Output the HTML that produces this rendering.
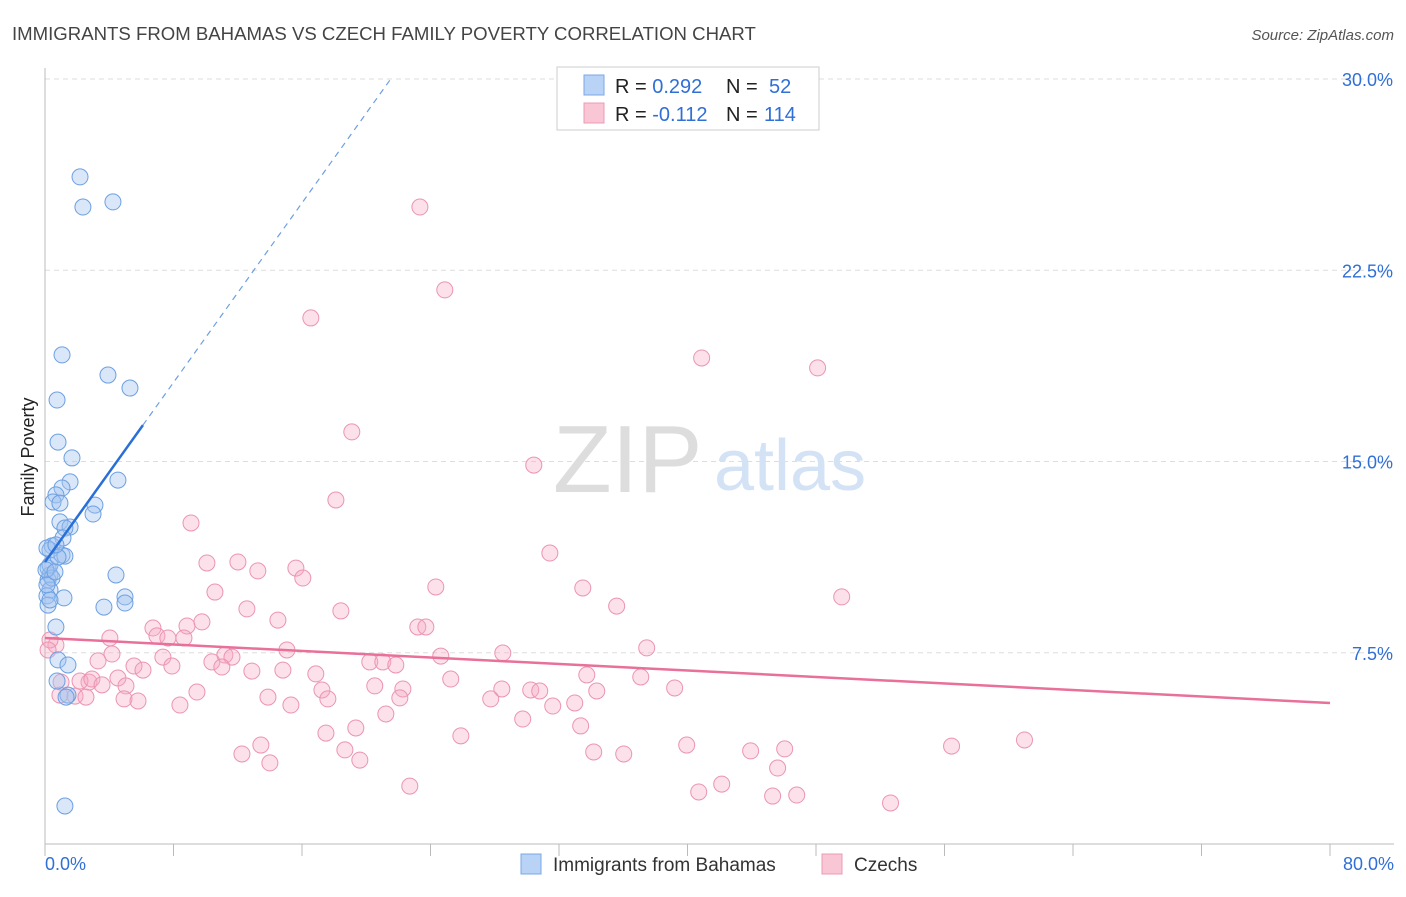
<!DOCTYPE html>
<html><head><meta charset="utf-8"><style>
body{margin:0;background:#fff;font-family:"Liberation Sans",sans-serif}
svg text{font-family:"Liberation Sans",sans-serif}
</style></head><body>
<svg id="chart" width="1406" height="892" xmlns="http://www.w3.org/2000/svg">
<text x="12" y="40" font-size="18.6" fill="#444">IMMIGRANTS FROM BAHAMAS VS CZECH FAMILY POVERTY CORRELATION CHART</text>
<text x="1394" y="40" font-size="15" fill="#555" text-anchor="end" font-style="italic">Source: ZipAtlas.com</text>
<g id="grid"></g>
<g>
<text x="553" y="492" font-size="96" fill="#ddd" font-family="Liberation Serif,serif">ZIP</text>
<text x="714" y="490" font-size="72" fill="#d4e2f5">atlas</text>
</g>
<text transform="translate(34,457) rotate(-90)" font-size="18" fill="#222" text-anchor="middle">Family Poverty</text>
<g id="marks"></g>
<g>
<rect x="557" y="67" width="262" height="63" fill="#fff" stroke="#ccc"/>
<rect x="584" y="75" width="20" height="20" fill="#b8d3f5" stroke="#7aa7e5"/>
<rect x="584" y="103" width="20" height="20" fill="#f9c6d5" stroke="#ec9bb4"/>
<text x="615" y="93" font-size="20" fill="#222">R = <tspan fill="#2f6fd6">0.292</tspan><tspan x="726">N = </tspan><tspan x="769" fill="#2f6fd6">52</tspan></text>
<text x="615" y="121" font-size="20" fill="#222">R = <tspan fill="#2f6fd6">-0.112</tspan><tspan x="726">N = </tspan><tspan x="764" fill="#2f6fd6">114</tspan></text>
</g>
<g>
<rect x="521" y="854" width="20" height="20" fill="#b8d3f5" stroke="#7aa7e5"/>
<text x="553" y="871" font-size="19" fill="#333">Immigrants from Bahamas</text>
<rect x="822" y="854" width="20" height="20" fill="#f9c6d5" stroke="#ec9bb4"/>
<text x="854" y="871" font-size="19" fill="#333">Czechs</text>
</g>
</svg>
<script>
const yTicks=[7.5,15,22.5,30];
const yTickLabels=["7.5%","15.0%","22.5%","30.0%"];
const xTickCount=10;
const xLabels=["0.0%","80.0%"];
const blueX=[2.18,2.36,4.23,1.06,3.92,5.29,0.75,0.81,1.68,1.56,1.06,4.54,0.68,0.50,0.93,3.11,2.99,0.93,1.56,1.24,1.12,0.44,0.31,1.06,1.24,0.12,0.19,0.31,4.42,0.19,0.31,0.12,1.18,4.98,4.98,3.67,0.19,0.68,0.81,1.43,0.75,1.43,1.24,0.31,0.44,0.81,0.06,0.31,0.68,0.12,0.62,1.31];
const blueY=[26.16,24.98,25.18,19.18,18.39,17.88,17.41,15.76,15.14,14.20,13.96,14.27,13.69,13.41,13.37,13.29,12.94,12.63,12.43,12.39,12.00,11.69,11.53,11.33,11.29,11.61,10.82,10.55,10.55,10.35,9.96,9.73,9.65,9.69,9.45,9.29,9.37,8.51,7.22,7.02,6.39,5.84,1.49,10.94,10.43,11.25,10.75,9.57,11.73,10.16,10.67,5.76];
const pinkX=[23.34,24.89,16.55,40.88,48.10,19.10,30.43,18.11,9.09,31.43,10.08,12.01,13.25,15.62,16.05,24.33,33.48,10.58,35.59,12.57,18.42,49.60,14.50,23.21,23.71,8.84,9.77,6.72,6.97,4.04,7.65,8.65,0.68,37.46,15.06,11.20,11.64,24.64,28.50,4.17,7.34,3.30,20.22,21.03,21.84,5.54,6.10,7.90,10.39,11.01,12.88,16.86,14.81,33.73,37.09,25.26,4.54,1.00,2.74,2.18,2.92,3.55,5.04,20.53,22.28,28.44,30.24,30.80,34.35,39.20,9.46,17.24,0.93,1.87,2.55,4.92,5.79,13.88,22.09,17.61,27.75,31.61,32.98,8.40,15.31,21.22,29.74,19.35,33.35,17.49,25.89,39.95,13.44,18.67,34.16,36.03,43.93,46.05,56.44,60.98,12.26,14.00,19.60,45.61,22.71,42.13,40.70,45.30,46.80,52.64,0.31,0.19];
const pinkY=[24.98,21.73,20.63,19.06,18.67,16.16,14.86,13.49,12.59,11.41,11.02,11.06,10.71,10.82,10.43,10.08,10.04,9.88,9.33,9.22,9.14,9.69,8.78,8.51,8.51,8.55,8.71,8.47,8.16,8.08,8.08,8.08,7.80,7.69,7.61,7.41,7.33,7.37,7.49,7.45,7.33,7.18,7.14,7.14,7.02,6.98,6.82,6.98,7.14,6.94,6.78,6.67,6.82,6.63,6.55,6.47,6.51,6.35,6.35,6.39,6.47,6.24,6.20,6.20,6.08,6.08,6.04,6.00,6.00,6.12,5.96,6.04,5.84,5.80,5.76,5.69,5.61,5.76,5.73,5.69,5.69,5.41,5.53,5.45,5.45,5.10,4.90,4.55,4.63,4.35,4.24,3.88,3.88,3.69,3.61,3.53,3.65,3.73,3.84,4.08,3.53,3.18,3.29,2.98,2.27,2.35,2.04,1.88,1.92,1.61,8.00,7.61];
const blueTrend=[11.06,0.88];
const blueSolidEnd=6.1;
const pinkTrend=[8.08,5.53];
const X0=45,X1=1330,Y0=844,PXY=25.5;
const sx=v=>X0+(X1-X0)*v/80;
const sy=v=>Y0-v*PXY;
const NS="http://www.w3.org/2000/svg";
function mk(t,a,p){const e=document.createElementNS(NS,t);for(const k in a)e.setAttribute(k,a[k]);p.appendChild(e);return e;}
const grid=document.getElementById('grid');
yTicks.forEach((t,i)=>{
 const l=mk('line',{x1:X0,x2:1394,y1:sy(t),y2:sy(t),stroke:'#ddd','stroke-dasharray':'5,4'},grid);
 
 
 const tx=mk('text',{x:1393,y:sy(t)+7,'font-size':18,fill:'#2f6fd6','text-anchor':'end'},grid);
 tx.textContent=yTickLabels[i];
 
 
});
const ax=mk('line',{x1:X0,x2:1394,y1:Y0,y2:Y0,stroke:'#bbb'},grid);


const ay=mk('line',{x1:X0,x2:X0,y1:68,y2:Y0,stroke:'#bbb'},grid);


for(let i=0;i<=xTickCount;i++){
 const t=mk('line',{x1:sx(i*8),x2:sx(i*8),y1:Y0,y2:Y0+12,stroke:'#bbb'},grid);
 
 
}
const xl0=mk('text',{x:45,y:870,'font-size':18,fill:'#2f6fd6'},grid);xl0.textContent=xLabels[0];


const xl1=mk('text',{x:1394,y:870,'font-size':18,fill:'#2f6fd6','text-anchor':'end'},grid);xl1.textContent=xLabels[1];


const marks=document.getElementById('marks');
pinkX.forEach((x,i)=>{
 const c=mk('circle',{cx:sx(x),cy:sy(pinkY[i]),r:8,fill:'rgba(245,170,195,0.35)',stroke:'#eb94b1','stroke-width':1},marks);
 
 
});
blueX.forEach((x,i)=>{
 const c=mk('circle',{cx:sx(x),cy:sy(blueY[i]),r:8,fill:'rgba(160,195,240,0.4)',stroke:'#6c9fe2','stroke-width':1},marks);
 
 
});
const bEnd=(29.96-blueTrend[0])/blueTrend[1];
const bl=mk('line',{x1:sx(0),y1:sy(blueTrend[0]),x2:sx(blueSolidEnd),y2:sy(blueTrend[0]+blueTrend[1]*blueSolidEnd),stroke:'#2a6fd8','stroke-width':2.5},marks);


const bd=mk('line',{x1:sx(blueSolidEnd),y1:sy(blueTrend[0]+blueTrend[1]*blueSolidEnd),x2:sx(bEnd),y2:sy(29.96),stroke:'#6c9fe2','stroke-width':1.2,'stroke-dasharray':'6,5'},marks);


const pl=mk('line',{x1:sx(0),y1:sy(pinkTrend[0]),x2:sx(80),y2:sy(pinkTrend[1]),stroke:'#e8709a','stroke-width':2.5},marks);


</script>
</body></html>
